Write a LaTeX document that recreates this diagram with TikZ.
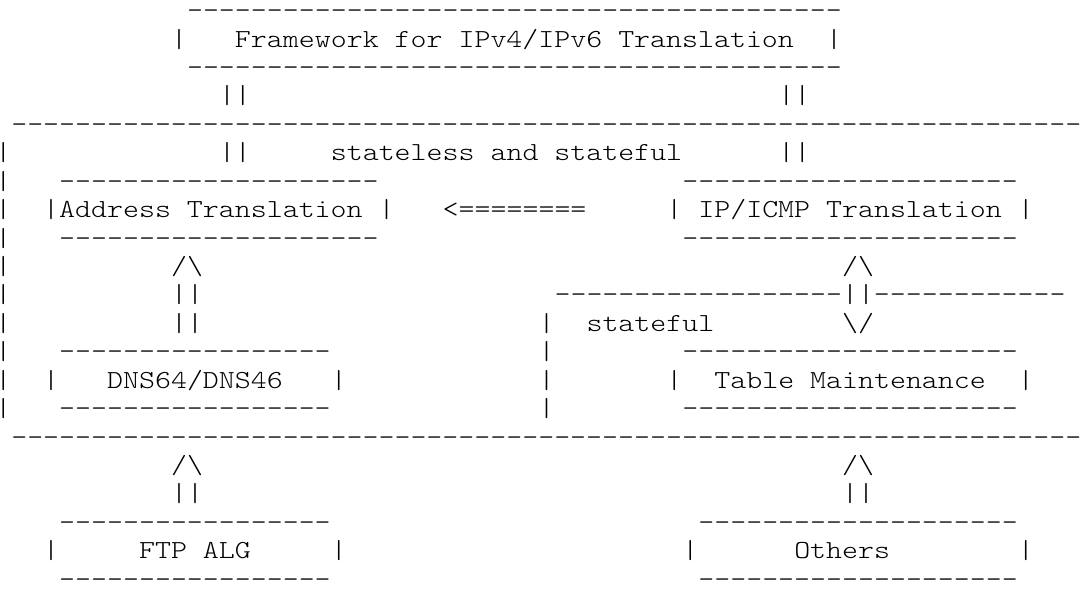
\documentclass[tikz,border=0pt]{standalone}
\usepackage{fontspec}
\newfontfamily\asciifont{lmmonolt10-regular}[Extension=.otf,FakeStretch=1.17]
\ExplSyntaxOn
\cs_new:Npn \dashrun #1 { \prg_replicate:nn {#1} {-} }
\ExplSyntaxOff

\begin{document}
\begin{tikzpicture}[x=15.98pt,y=-28.43pt,
  ascii/.style={font=\asciifont\fontsize{26pt}{28.43pt}\selectfont,anchor=base west,inner sep=0pt,outer sep=0pt},
  edgebar/.style={ascii,anchor=base}]
\useasboundingbox (0.294,0.342) rectangle (68.07,21.342);
% framework box
\node[ascii] (fwtop) at (12,1) {\dashrun{41}};
\node[ascii] (fwleft) at (11,2) {|};
\node[ascii] (fwtext) at (15,2) {Framework for IPv4/IPv6 Translation};
\node[ascii] (fwright) at (52,2) {|};
\node[ascii] (fwbottom) at (12,3) {\dashrun{41}};
\node[ascii] (fwlinkl) at (14,4) {||};
\node[ascii] (fwlinkr) at (49,4) {||};
% outer frame
\node[ascii] (frametop) at (1,5) {\dashrun{67}};
\node[edgebar] (frame6) at (0.5,6) {\makebox[0pt]{|}};
\node[edgebar] (frame7) at (0.5,7) {\makebox[0pt]{|}};
\node[edgebar] (frame8) at (0.5,8) {\makebox[0pt]{|}};
\node[edgebar] (frame9) at (0.5,9) {\makebox[0pt]{|}};
\node[edgebar] (frame10) at (0.5,10) {\makebox[0pt]{|}};
\node[edgebar] (frame11) at (0.5,11) {\makebox[0pt]{|}};
\node[edgebar] (frame12) at (0.5,12) {\makebox[0pt]{|}};
\node[edgebar] (frame13) at (0.5,13) {\makebox[0pt]{|}};
\node[edgebar] (frame14) at (0.5,14) {\makebox[0pt]{|}};
\node[edgebar] (frame15) at (0.5,15) {\makebox[0pt]{|}};
\node[ascii] (framebottom) at (1,16) {\dashrun{67}};
\node[ascii] (inlinkl) at (14,6) {||};
\node[ascii] (statelabel) at (21,6) {stateless and stateful};
\node[ascii] (inlinkr) at (49,6) {||};
% address and ip/icmp translation
\node[ascii] (addrtop) at (4,7) {\dashrun{20}};
\node[ascii] (addr) at (3,8) {|Address Translation |};
\node[ascii] (addrbottom) at (4,9) {\dashrun{20}};
\node[ascii] (feed) at (28,8) {<========};
\node[ascii] (iptop) at (43,7) {\dashrun{21}};
\node[ascii] (ip) at (42,8) {| IP/ICMP Translation |};
\node[ascii] (ipbottom) at (43,9) {\dashrun{21}};
% arrows up to address translation
\node[ascii] (dnshead) at (11,10) {/\textbackslash};
\node[ascii] (dnsshaft1) at (11,11) {||};
\node[ascii] (dnsshaft2) at (11,12) {||};
\node[ascii] (iphead) at (53,10) {/\textbackslash};
% stateful part
\node[ascii] (statefultop) at (35,11) {\dashrun{18}||\dashrun{12}};
\node[ascii] (stateful12) at (34,12) {|};
\node[ascii] (stateful13) at (34,13) {|};
\node[ascii] (stateful14) at (34,14) {|};
\node[ascii] (stateful15) at (34,15) {|};
\node[ascii] (statefullabel) at (37,12) {stateful};
\node[ascii] (tablehead) at (53,12) {\textbackslash/};
% dns64 and table maintenance
\node[ascii] (dnstop) at (4,13) {\dashrun{17}};
\node[ascii] (dnsleft) at (3,14) {|};
\node[ascii] (dns) at (7,14) {DNS64/DNS46};
\node[ascii] (dnsright) at (21,14) {|};
\node[ascii] (dnsbottom) at (4,15) {\dashrun{17}};
\node[ascii] (tabletop) at (43,13) {\dashrun{21}};
\node[ascii] (tableleft) at (42,14) {|};
\node[ascii] (table) at (45,14) {Table Maintenance};
\node[ascii] (tableright) at (64,14) {|};
\node[ascii] (tablebottom) at (43,15) {\dashrun{21}};
% outside users
\node[ascii] (ftphead) at (11,17) {/\textbackslash};
\node[ascii] (ftpshaft) at (11,18) {||};
\node[ascii] (othershead) at (53,17) {/\textbackslash};
\node[ascii] (othersshaft) at (53,18) {||};
\node[ascii] (ftptop) at (4,19) {\dashrun{17}};
\node[ascii] (ftpleft) at (3,20) {|};
\node[ascii] (ftp) at (9,20) {FTP ALG};
\node[ascii] (ftpright) at (21,20) {|};
\node[ascii] (ftpbottom) at (4,21) {\dashrun{17}};
\node[ascii] (otherstop) at (44,19) {\dashrun{20}};
\node[ascii] (othersleft) at (43,20) {|};
\node[ascii] (others) at (50,20) {Others};
\node[ascii] (othersright) at (64,20) {|};
\node[ascii] (othersbottom) at (44,21) {\dashrun{20}};
\end{tikzpicture}
\end{document}
